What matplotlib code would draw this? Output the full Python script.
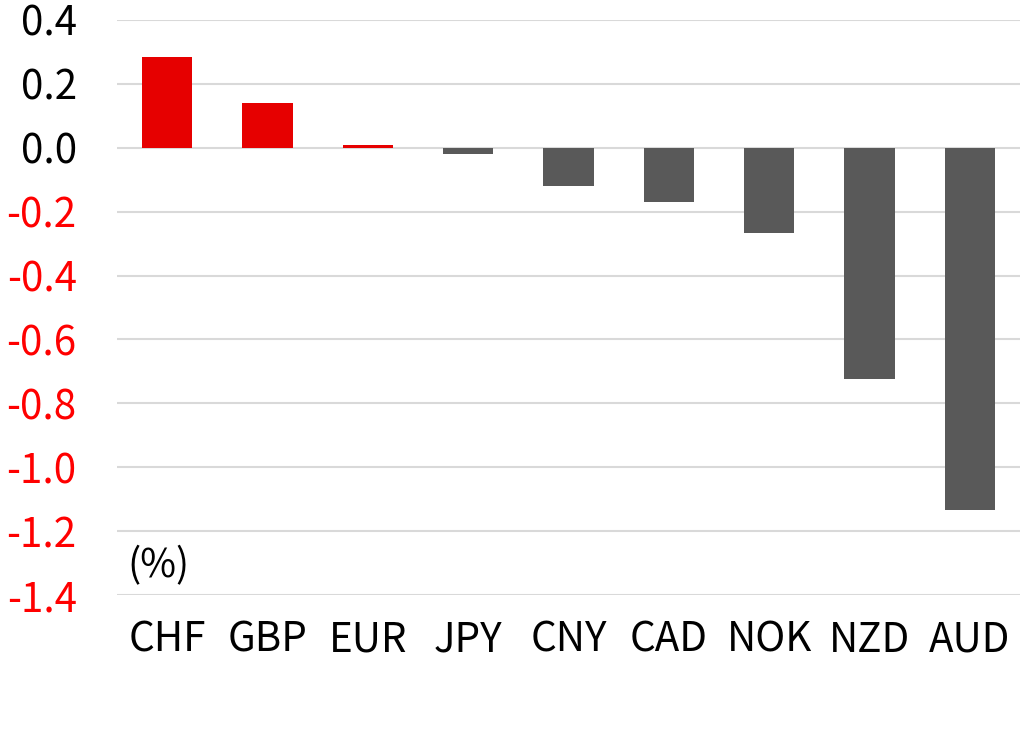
import numpy as np
import matplotlib.pyplot as plt

plt.rcParams['font.family'] = ['Noto Sans CJK KR', 'DejaVu Sans']
plt.rcParams['font.weight'] = 'light'

# 통화별 변화율 (%)
currencies = ['CHF', 'GBP', 'EUR', 'JPY', 'CNY', 'CAD', 'NOK', 'NZD', 'AUD']
changes = [0.283, 0.141, 0.010, -0.019, -0.119, -0.170, -0.266, -0.725, -1.134]

y_ticks = [0.4, 0.2, 0.0, -0.2, -0.4, -0.6, -0.8, -1.0, -1.2, -1.4]

red = '#e60000'
gray = '#595959'

fig = plt.figure(figsize=(10.22, 7.36), dpi=100)
ax = fig.add_axes([117 / 1022, 1 - 595 / 736, 903 / 1022, 575 / 736])

x = np.arange(len(currencies))
colors = [red if v > 0 else gray for v in changes]
ax.bar(x, changes, width=0.5, color=colors, zorder=3)

ax.set_xlim(-0.5, len(currencies) - 0.5)
ax.set_ylim(-1.4, 0.4)
ax.set_yticks(y_ticks)
ax.set_yticklabels([f'{v:.1f}' for v in y_ticks])
for lab, v in zip(ax.get_yticklabels(), y_ticks):
    lab.set_color('#ff0000' if v < 0 else 'black')

ax.set_xticks(x)
ax.set_xticklabels(currencies)

ax.tick_params(axis='y', length=0, labelsize=29, pad=29)
ax.tick_params(axis='x', length=0, labelsize=29, pad=18)

ax.grid(axis='y', color='#d9d9d9', linewidth=1.5, zorder=0)
for s in ax.spines.values():
    s.set_visible(False)

ax.text(0.011, 0.05, '(%)', transform=ax.transAxes, fontsize=28,
        ha='left', va='center')

plt.savefig('out.png', dpi=100)
